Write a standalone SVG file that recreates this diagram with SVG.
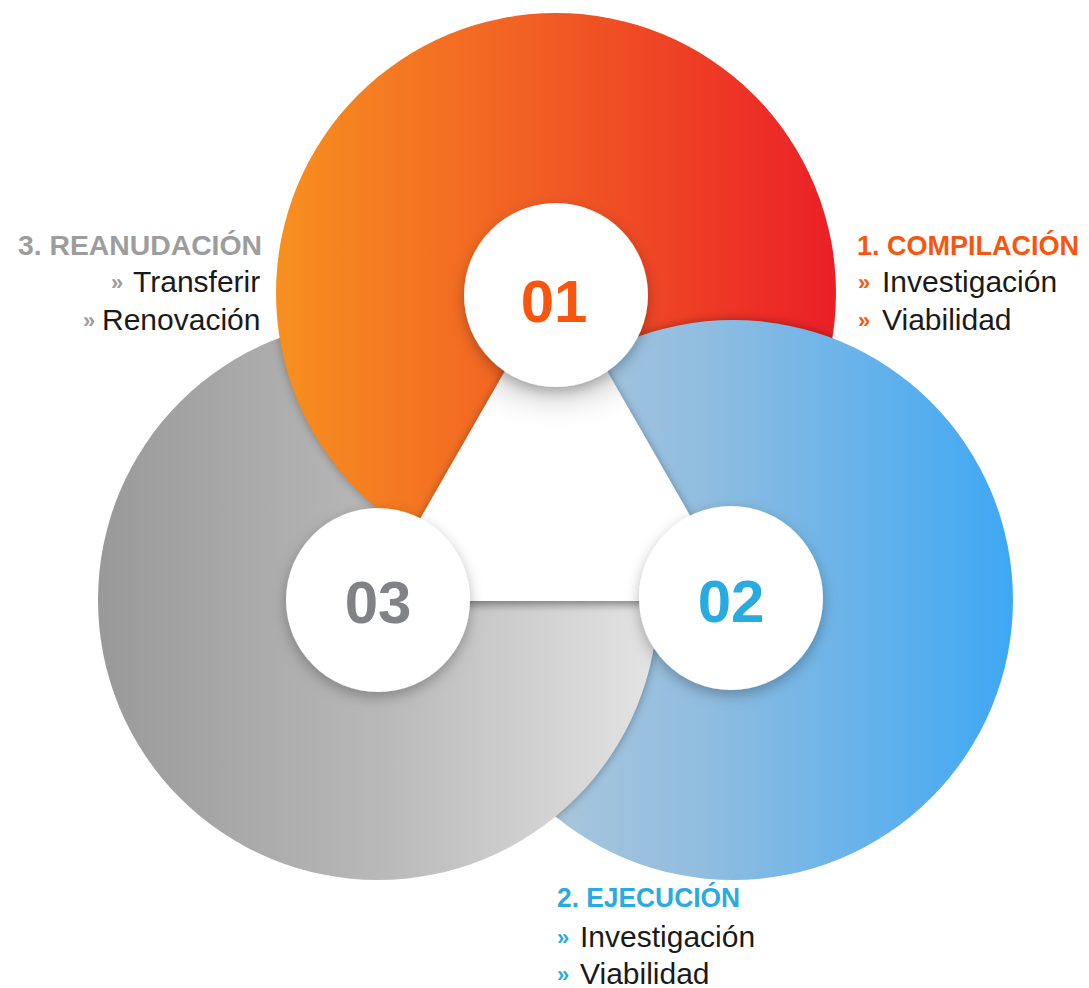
<svg xmlns="http://www.w3.org/2000/svg" width="1089" height="988" viewBox="0 0 1089 988">
  <style>
    .head { font-family: "Liberation Sans", Arial, sans-serif; font-weight: bold; font-size: 27px; }
    .item { font-family: "Liberation Sans", Arial, sans-serif; font-size: 30px; fill: #1a1a1a; }
    .bul { font-family: "Liberation Sans", Arial, sans-serif; font-weight: bold; font-size: 22px; }
    .num { font-family: "Liberation Sans", Arial, sans-serif; font-weight: bold; font-size: 60px; text-anchor: middle; }
    .orange { fill: #f8560f; }
    .blue { fill: #29abe2; }
    .gray { fill: #9d9d9d; }
  </style>
  <defs>
    <linearGradient id="gOrange" gradientUnits="userSpaceOnUse" x1="276" y1="0" x2="836" y2="0">
      <stop offset="0" stop-color="#f7901f"/>
      <stop offset="0.5" stop-color="#f15a24"/>
      <stop offset="1" stop-color="#eb1f27"/>
    </linearGradient>
    <linearGradient id="gGray" gradientUnits="userSpaceOnUse" x1="98" y1="0" x2="658" y2="0">
      <stop offset="0" stop-color="#999999"/>
      <stop offset="0.5" stop-color="#b8b8b8"/>
      <stop offset="1" stop-color="#e4e4e4"/>
    </linearGradient>
    <linearGradient id="gBlue" gradientUnits="userSpaceOnUse" x1="453" y1="0" x2="1013" y2="0">
      <stop offset="0" stop-color="#b9cbd9"/>
      <stop offset="0.45" stop-color="#90bde0"/>
      <stop offset="1" stop-color="#3ea8f4"/>
    </linearGradient>
    <clipPath id="cBlue"><circle cx="733" cy="600" r="280"/></clipPath>
    <clipPath id="cOrange"><circle cx="556" cy="293" r="280"/></clipPath>
    <clipPath id="cOrangeWide"><circle cx="556" cy="293" r="283"/></clipPath>
    <clipPath id="cGray"><circle cx="378" cy="600" r="280"/></clipPath>
    <clipPath id="cTri"><polygon points="556,282 373,601 739,601"/></clipPath>
    <filter id="blur" x="-20%" y="-20%" width="140%" height="140%">
      <feGaussianBlur stdDeviation="5"/>
    </filter>
    <filter id="blurBig" x="-50%" y="-50%" width="200%" height="200%">
      <feGaussianBlur stdDeviation="14"/>
    </filter>
    <filter id="triShadow" x="-20%" y="-20%" width="140%" height="140%">
      <feDropShadow dx="0" dy="3" stdDeviation="5" flood-color="#000" flood-opacity="0.45"/>
    </filter>
    <filter id="circShadow" x="-30%" y="-30%" width="160%" height="160%">
      <feDropShadow dx="0" dy="5" stdDeviation="7" flood-color="#000" flood-opacity="0.28"/>
    </filter>
  </defs>

  <!-- blue ring (bottom layer) -->
  <g id="ring-blue">
    <circle cx="733" cy="600" r="280" fill="url(#gBlue)"/>
  </g>

  <!-- gray ring over blue -->
  <g id="ring-gray">
    <g clip-path="url(#cBlue)">
      <circle cx="378" cy="600" r="280" fill="#000" opacity="0.35" filter="url(#blur)"/>
    </g>
    <circle cx="378" cy="600" r="280" fill="url(#gGray)"/>
  </g>

  <!-- orange ring over gray -->
  <g id="ring-orange">
    <g clip-path="url(#cGray)">
      <circle cx="556" cy="293" r="280" fill="#000" opacity="0.3" filter="url(#blur)"/>
    </g>
    <circle cx="556" cy="293" r="280" fill="url(#gOrange)"/>
  </g>

  <!-- blue over orange -->
  <g id="ring-blue-top">
    <g clip-path="url(#cOrange)">
      <circle cx="733" cy="600" r="280" fill="#000" opacity="0.35" filter="url(#blur)"/>
    </g>
    <g clip-path="url(#cOrangeWide)">
      <circle cx="733" cy="600" r="280" fill="url(#gBlue)"/>
    </g>
  </g>

  <!-- central triangle -->
  <g id="triangle">
    <polygon points="556,282 373,601 739,601" fill="#ffffff" filter="url(#triShadow)"/>
    <g clip-path="url(#cTri)">
      <ellipse cx="556" cy="345" rx="90" ry="60" fill="#000" opacity="0.12" filter="url(#blurBig)"/>
    </g>
  </g>

  <g id="connectors"/>

  <g id="node-01">
    <circle cx="556" cy="295" r="92" fill="#ffffff" filter="url(#circShadow)"/>
    <text class="num orange" x="554" y="322">01</text>
  </g>
  <g id="node-03">
    <circle cx="378" cy="600" r="92" fill="#ffffff" filter="url(#circShadow)"/>
    <text class="num" x="378" y="623" fill="#808285">03</text>
  </g>
  <g id="node-02">
    <circle cx="731" cy="598" r="92" fill="#ffffff" filter="url(#circShadow)"/>
    <text class="num blue" x="731" y="622">02</text>
  </g>

  <g id="label-3">
    <text class="head gray" x="262" y="255" text-anchor="end" textLength="244" lengthAdjust="spacingAndGlyphs">3. REANUDACIÓN</text>
    <text class="bul gray" x="111" y="290">»</text>
    <text class="item" x="133" y="292">Transferir</text>
    <text class="bul gray" x="83" y="328">»</text>
    <text class="item" x="102" y="330">Renovación</text>
  </g>

  <g id="label-1">
    <text class="head orange" x="857" y="255" textLength="222" lengthAdjust="spacingAndGlyphs">1. COMPILACIÓN</text>
    <text class="bul orange" x="858" y="290">»</text>
    <text class="item" x="882" y="292">Investigación</text>
    <text class="bul orange" x="858" y="328">»</text>
    <text class="item" x="882" y="330">Viabilidad</text>
  </g>

  <g id="label-2">
    <text class="head blue" x="557" y="907" textLength="183" lengthAdjust="spacingAndGlyphs">2. EJECUCIÓN</text>
    <text class="bul blue" x="557" y="945">»</text>
    <text class="item" x="580" y="947">Investigación</text>
    <text class="bul blue" x="557" y="982">»</text>
    <text class="item" x="580" y="984">Viabilidad</text>
  </g>
</svg>
